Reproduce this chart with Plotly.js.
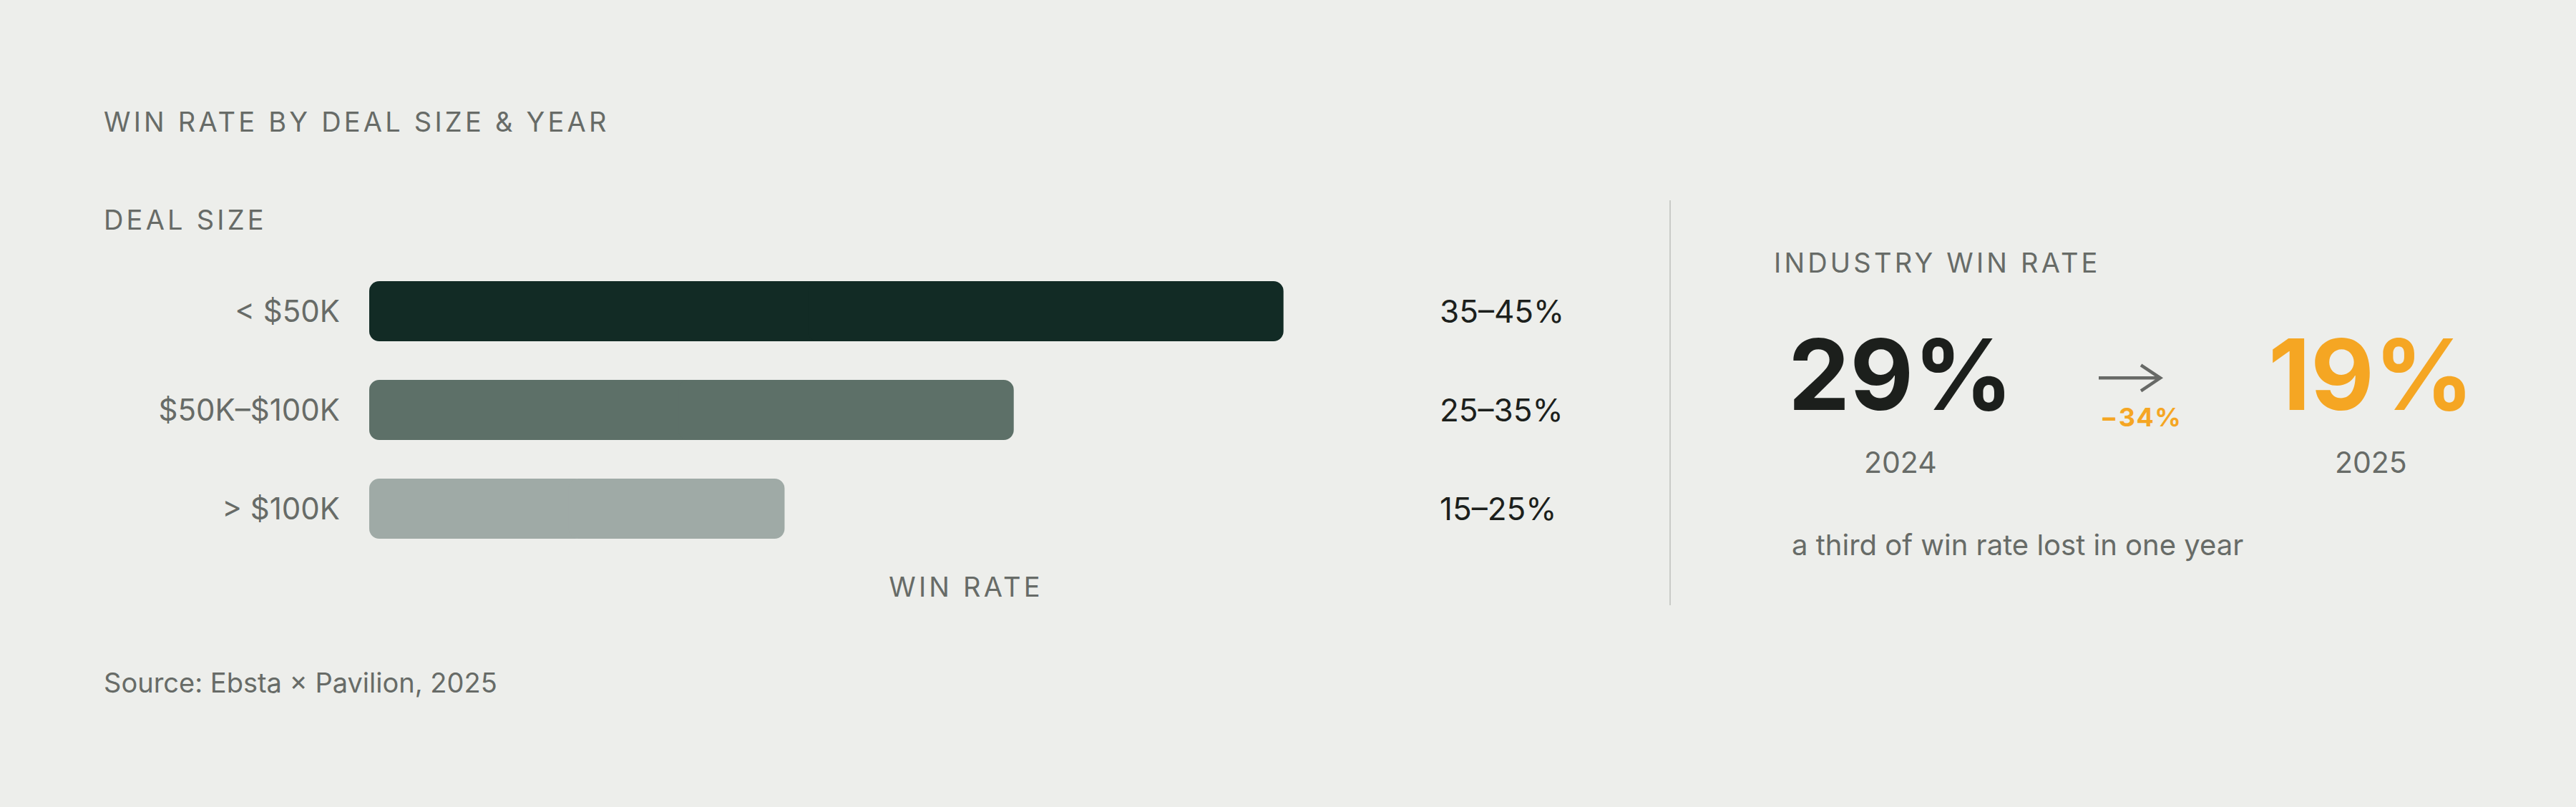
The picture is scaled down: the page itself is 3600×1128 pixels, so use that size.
<!DOCTYPE html>
<html><head><meta charset="utf-8">
<script src="https://cdn.plot.ly/plotly-3.0.1.min.js"></script>
<style>
html,body{margin:0;padding:0;background:#EDEEEB;}
#chart{width:3600px;height:1128px;}
.annotation[data-index="0"] text,
.annotation[data-index="1"] text,
.annotation[data-index="2"] text{letter-spacing:4.2px;}
.annotation[data-index="3"] text{letter-spacing:1.5px;}
.xtitle{letter-spacing:4.2px;}
</style></head><body><div id="chart"></div>
<script>
// ---- data ----
const categories = ['< $50K', '$50K–$100K', '> $100K'];
const winRate = [38.3, 27.0, 17.4];          // bar lengths (axis 0–50)
const rangeLabels = ['35–45%', '25–35%', '15–25%'];
const barColors = ['#122B25', '#5D7068', '#9FAAA6'];
const years = ['2024', '2025'];
const industryRate = [29, 19];
const yearColors = ['#1C1F1C', '#F5A623'];
const changeLabel = '−34%';

const W = 3600, H = 1128;
const px = v => v / W;
const py = v => 1 - v / H;
const GRAY = '#676B67';
const FONT = 'Inter, "Noto Sans", sans-serif';

// each bar drawn as two slightly overlapping halves so both ends get rounded corners
const BAR_W = 84 / 138;
const leftHalf = {
  type: 'bar', orientation: 'h', y: categories, opacity: 1,
  x: winRate.map(v => -v * 0.52), base: winRate.map(v => v * 0.52),
  width: BAR_W, marker: {color: barColors, opacity: 1, cornerradius: 14, line: {width: 0}},
  hoverinfo: 'skip', showlegend: false
};
const rightHalf = {
  type: 'bar', orientation: 'h', y: categories, opacity: 1,
  x: winRate.map(v => v * 0.52), base: winRate.map(v => v * 0.48),
  width: BAR_W, marker: {color: barColors, opacity: 1, cornerradius: 14, line: {width: 0}},
  hoverinfo: 'skip', showlegend: false
};

const ann = [];
function t(text, x, y, size, color, opts) {
  ann.push(Object.assign({
    text: text, xref: 'paper', yref: 'paper', x: px(x), y: py(y),
    xanchor: 'left', yanchor: 'middle', align: 'left', showarrow: false,
    font: {family: FONT, size: size, color: color}
  }, opts || {}));
}
t('WIN RATE BY DEAL SIZE &amp; YEAR', 143, 170, 38, GRAY);
t('DEAL SIZE', 143, 307, 38, GRAY);
t('INDUSTRY WIN RATE', 2477, 367, 38, GRAY);
t(changeLabel, 2992, 583, 36, '#F5A623', {xanchor: 'center', align: 'center', font: {family: FONT, size: 36, color: '#F5A623', weight: 700}});
rangeLabels.forEach((lab, i) => {
  ann.push({text: lab, xref: 'paper', yref: 'y', x: px(2010), y: categories[i],
    xanchor: 'left', yanchor: 'middle', align: 'left', showarrow: false,
    font: {family: FONT, size: 44, color: '#1C1F1C'}});
});
const yearX = [2656, 3313];
industryRate.forEach((v, i) => {
  t(v + '%', yearX[i], 523, 137, yearColors[i], {xanchor: 'center', align: 'center', font: {family: FONT, size: 137, color: yearColors[i], weight: 700}});
  t(years[i], yearX[i], 646, 41, GRAY, {xanchor: 'center', align: 'center'});
});
t('a third of win rate lost in one year', 2502, 762, 40, GRAY);
t('Source: Ebsta × Pavilion, 2025', 143, 954, 38, GRAY);

// arrow between the two years (open chevron head)
const ax0 = 2933, ax1 = 3019, ay = 528.3, headX = 2992, headDy = 18;
const arrowPath = 'M' + px(ax0) + ',' + py(ay) + ' L' + px(ax1) + ',' + py(ay) +
  ' M' + px(headX) + ',' + py(ay - headDy) + ' L' + px(ax1) + ',' + py(ay) +
  ' L' + px(headX) + ',' + py(ay + headDy);

const layout = {
  width: W, height: H,
  paper_bgcolor: '#EDEEEB', plot_bgcolor: 'rgba(0,0,0,0)',
  margin: {l: 0, r: 0, t: 0, b: 0},
  barmode: 'overlay', showlegend: false,
  xaxis: {
    domain: [516 / W, 2184 / W], range: [0, 50],
    showgrid: false, zeroline: false, showline: false, showticklabels: false, ticks: '',
    title: {text: 'WIN RATE', standoff: 27, font: {family: FONT, size: 38, color: GRAY}}
  },
  yaxis: {
    type: 'category', categoryorder: 'array', categoryarray: categories,
    domain: [py(780), py(366)], range: [2.5, -0.5],
    showgrid: false, zeroline: false, showline: false, ticks: '',
    ticklabelstandoff: 40,
    tickfont: {family: FONT, size: 42, color: GRAY}
  },
  shapes: [
    {type: 'line', xref: 'paper', yref: 'paper',
     x0: px(2334), x1: px(2334), y0: py(280), y1: py(846),
     line: {color: '#C9CBC7', width: 2}},
    {type: 'path', xref: 'paper', yref: 'paper', path: arrowPath,
     line: {color: '#676966', width: 4.5}}
  ],
  annotations: ann
};
Plotly.newPlot('chart', [leftHalf, rightHalf], layout, {staticPlot: true, displayModeBar: false});
</script></body></html>
